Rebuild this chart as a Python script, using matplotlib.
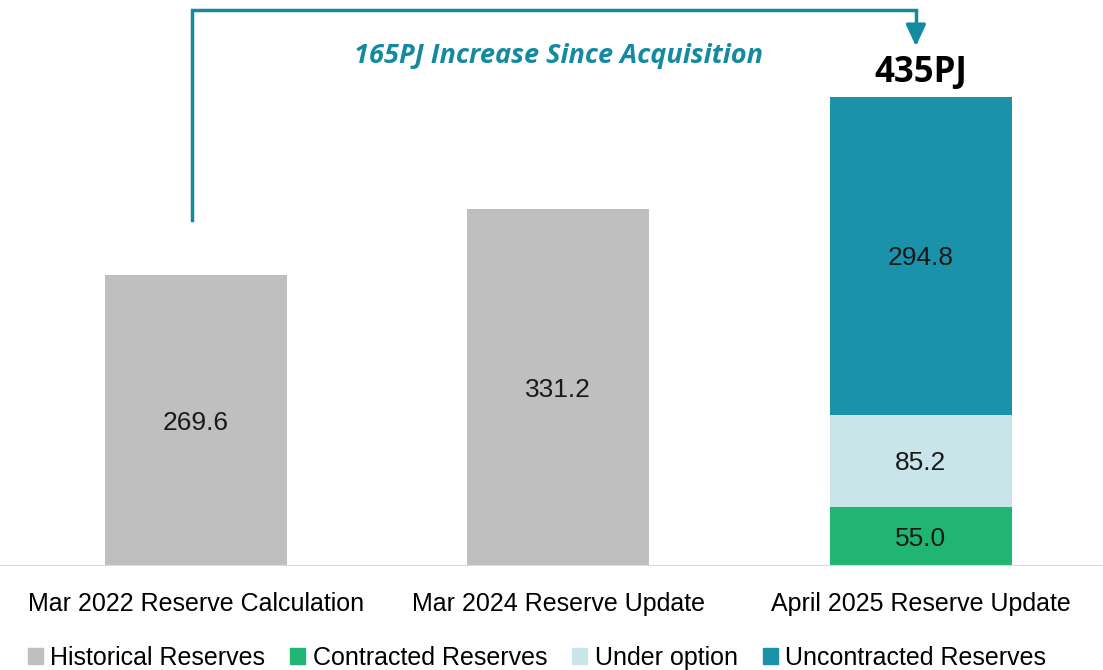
import matplotlib
matplotlib.use("Agg")
import matplotlib.pyplot as plt
from matplotlib.patches import Patch

categories = ["Mar 2022 Reserve Calculation", "Mar 2024 Reserve Update", "April 2025 Reserve Update"]
historical = [269.6, 331.2, 0]
contracted = [0, 0, 55.0]
under_option = [0, 0, 85.2]
uncontracted = [0, 0, 294.8]
total_label = "435PJ"
increase_label = "165PJ Increase Since Acquisition"

c_hist = "#bfbfbf"
c_contr = "#21b573"
c_opt = "#c9e5ea"
c_unc = "#1a92aa"
c_arrow = "#148aa0"

plt.rcParams["font.family"] = ["Liberation Sans", "DejaVu Sans"]

fig = plt.figure(figsize=(11.03, 6.7), dpi=100)
ax = fig.add_axes([0, 104 / 670, 1, 566 / 670])

x = range(len(categories))
w = 0.502
ax.bar(x, historical, w, color=c_hist, label="Historical Reserves")
ax.bar(x, contracted, w, color=c_contr, label="Contracted Reserves")
b2 = [h + c for h, c in zip(historical, contracted)]
ax.bar(x, under_option, w, bottom=b2, color=c_opt, label="Under option")
b3 = [b + u for b, u in zip(b2, under_option)]
ax.bar(x, uncontracted, w, bottom=b3, color=c_unc, label="Uncontracted Reserves")

# segment labels
for i in x:
    base = 0
    for vals in (historical, contracted, under_option, uncontracted):
        v = vals[i]
        if v > 0:
            ax.text(i, base + v / 2, f"{v:.1f}", ha="center", va="center_baseline",
                    fontsize=19, color="#1a1a1a")
            base += v

top = b3[2] + uncontracted[2]
ax.text(2, top + 6, total_label, ha="center", va="bottom", fontsize=25,
        fontweight="bold", family=["Open Sans", "DejaVu Sans"], color="black")

# arrow bracket
ax.plot([-0.011, -0.011, 1.986, 1.986], [321, 516, 516, 495], color=c_arrow, lw=2.5,
        solid_joinstyle="miter", clip_on=False)
ax.annotate("", xy=(1.986, 482), xytext=(1.986, 500),
            arrowprops=dict(arrowstyle="-|>,head_length=1.3,head_width=0.6",
                            color=c_arrow, lw=2.5, shrinkA=0, shrinkB=0))
ax.text(1.0, 473, increase_label, ha="center", va="center", fontsize=19.5,
        fontstyle="italic", fontweight="bold", color=c_arrow,
        family=["Open Sans", "DejaVu Sans"])

ax.set_xlim(-0.54, 2.502)
ax.set_ylim(0, 525)
ax.axhline(0, color="#d9d9d9", lw=1.5)
for s in ax.spines.values():
    s.set_visible(False)
ax.set_yticks([])
ax.set_xticks(list(x))
ax.set_xticklabels(categories, fontsize=18)
ax.tick_params(axis="x", length=0, pad=19)

handles = [Patch(color=c) for c in (c_hist, c_contr, c_opt, c_unc)]
labels = ["Historical Reserves", "Contracted Reserves", "Under option", "Uncontracted Reserves"]
fig.legend(handles, labels, loc="center", bbox_to_anchor=(537 / 1103, 1 - 658 / 670),
           ncol=4, frameon=False, fontsize=18, handlelength=0.6, handleheight=0.6,
           handletextpad=0.3, columnspacing=1.0, borderaxespad=0)

fig.savefig("out.png", dpi=100)
